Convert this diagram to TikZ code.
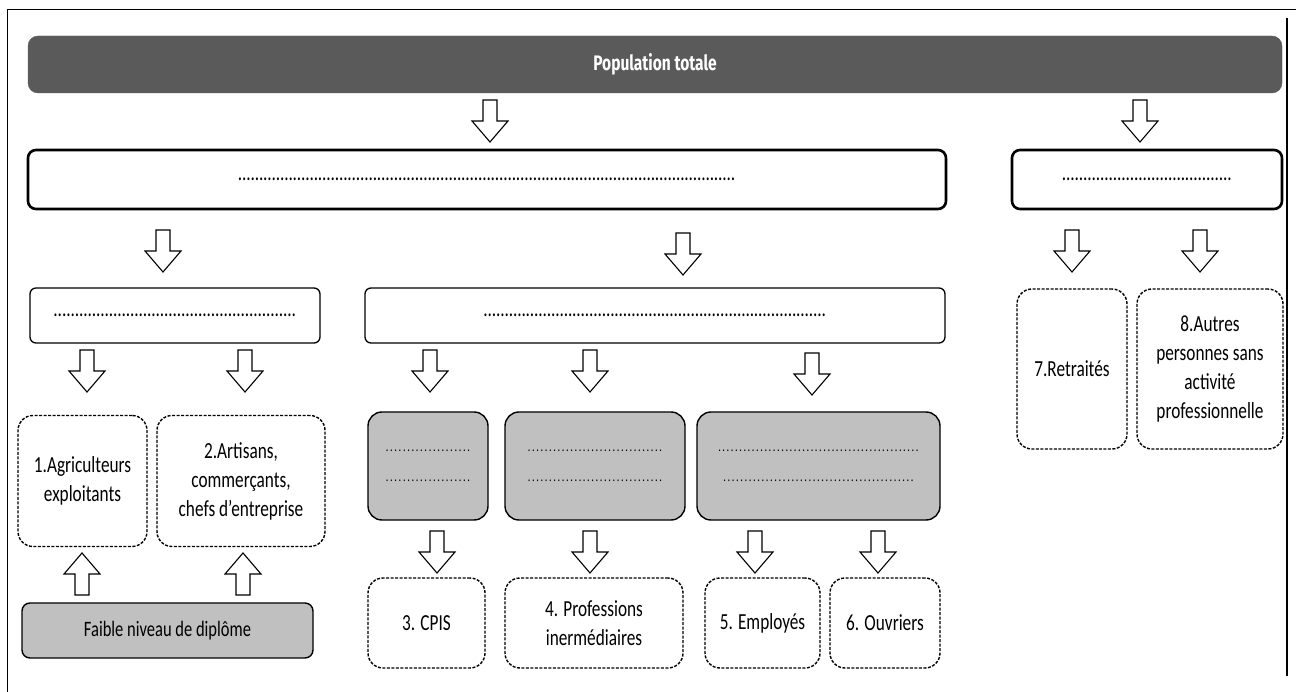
\documentclass[tikz,border=0pt]{standalone}
\usepackage{fontspec}
\setmainfont{Carlito}[FakeStretch=0.75]
\newfontfamily\barfont{Fira Sans}[FakeStretch=0.74]
\usetikzlibrary{calc}
\definecolor{bardark}{HTML}{5A5A5A}
\definecolor{boxgray}{HTML}{C0C0C0}
\newcommand\dotrow[1]{\makebox[#1pt]{\xleaders\hbox to 4.2pt{\hss.\hss}\hfill}}
\tikzset{
  x=1pt, y=-1pt,
  every node/.style={font=\fontsize{23}{29}\selectfont, align=center, inner sep=0pt},
  bar/.style={fill=bardark, draw=bardark, rounded corners=10pt, text=white, font=\barfont\bfseries\fontsize{21}{24}\selectfont},
  thickbox/.style={draw, line width=2.6pt, rounded corners=8pt, fill=white},
  thinbox/.style={draw, line width=1.3pt, rounded corners=6pt, fill=white},
  dashbox/.style={draw, line width=1.4pt, dash pattern=on 3pt off 1.5pt, rounded corners=15pt, fill=white},
  graybox/.style={draw, line width=1.4pt, rounded corners=14pt, fill=boxgray},
  dotfont/.style={font=\fontsize{14}{30}\selectfont},
  arrowshape/.style={draw, line width=1.1pt, fill=white, line join=miter},
  dnarrow/.pic={\path[arrowshape] (-7,0) -- (7,0) -- (7,21) -- (18,21) -- (0,42) -- (-18,21) -- (-7,21) -- cycle;},
  uparrow/.pic={\path[arrowshape] (-7,42) -- (7,42) -- (7,21) -- (18,21) -- (0,0) -- (-18,21) -- (-7,21) -- cycle;}
}
\begin{document}
\begin{tikzpicture}
\useasboundingbox (0,0) rectangle (1296,692);
\fill[white] (0,0) rectangle (1296,692);
% frame lines
\draw[line width=1pt] (7,692) coordinate (fl) -- (7,10) coordinate (ftl) -- (1296,10) coordinate (ftr);
\draw[line width=2pt] (1287,18) coordinate (fr1) -- (1287,676) coordinate (fr2);

% top bar
\node[bar, minimum width=1254, minimum height=57] (bar) at (655,64.5) {Population totale};

% level 1
\node[thickbox, minimum width=918, minimum height=59] (A) at (487,179.5) {\dotrow{498}};
\node[thickbox, minimum width=270, minimum height=59] (B) at (1147,179.5) {\dotrow{170}};

% level 2
\node[thinbox, minimum width=290, minimum height=55] (C) at (175,315.5) {\dotrow{243}};
\node[thinbox, minimum width=580, minimum height=55] (D) at (655,315.5) {\dotrow{343}};
\node[dashbox, minimum width=110, minimum height=160] (R7) at (1072,369) {7.Retraités};
\node[dashbox, minimum width=146, minimum height=160] (R8) at (1210,369) {8.Autres\\personnes sans\\activité\\professionnelle};

% level 3
\node[dashbox, minimum width=129, minimum height=131] (P1) at (82.5,481) {1.Agriculteurs\\exploitants};
\node[dashbox, minimum width=168, minimum height=131] (P2) at (241,481) {2.Artisans,\\commerçants,\\chefs d’entreprise};
\node[graybox, minimum width=120, minimum height=108, dotfont] (G1) at (428,466) {\dotrow{86}\\\dotrow{86}};
\node[graybox, minimum width=180, minimum height=108, dotfont] (G2) at (595,466) {\dotrow{136}\\\dotrow{136}};
\node[graybox, minimum width=243, minimum height=108, dotfont] (G3) at (818.5,466) {\dotrow{202}\\\dotrow{192}};

% bottom
\node[graybox, rounded corners=8pt, minimum width=291, minimum height=55, font=\fontsize{22}{26}\selectfont] (F) at (167.5,630.5) {Faible niveau de diplôme};
\node[dashbox, minimum width=117, minimum height=90] (P3) at (426.5,623) {3. CPIS};
\node[dashbox, minimum width=178, minimum height=90] (P4) at (594,623) {4. Professions\\inermédiaires};
\node[dashbox, minimum width=115, minimum height=90] (P5) at (762.5,623) {5. Employés};
\node[dashbox, minimum width=110, minimum height=90] (P6) at (885,623) {6. Ouvriers};

% block arrows
\pic at (490,100) {dnarrow};
\pic at (1140,100) {dnarrow};
\pic at (163,230) {dnarrow};
\pic at (683,233) {dnarrow};
\pic at (1072,230) {dnarrow};
\pic at (1200,230) {dnarrow};
\pic at (87,350) {dnarrow};
\pic at (245,350) {dnarrow};
\pic at (430,350) {dnarrow};
\pic at (590,350) {dnarrow};
\pic at (812,353) {dnarrow};
\pic at (82,553) {uparrow};
\pic at (243,553) {uparrow};
\pic at (437,531) {dnarrow};
\pic at (590,531) {dnarrow};
\pic at (755,531) {dnarrow};
\pic at (878,531) {dnarrow};
\end{tikzpicture}
\end{document}
